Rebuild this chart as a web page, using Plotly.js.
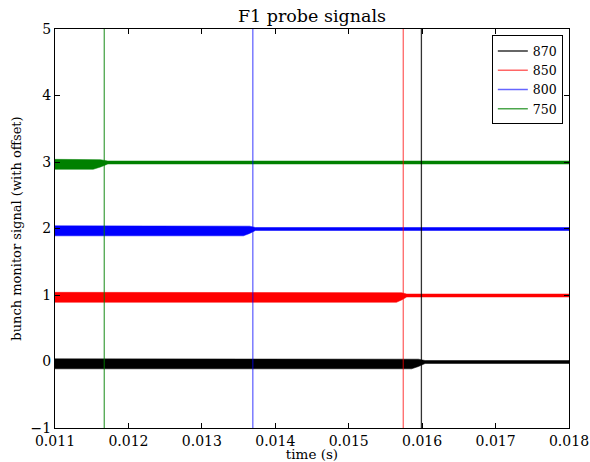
<!DOCTYPE html>
<html>
<head>
<meta charset="utf-8">
<script src="https://cdn.plot.ly/plotly-3.0.1.min.js"></script>
<style>html,body{margin:0;padding:0;background:#fff;}#chart{width:590px;height:462px;}</style>
</head>
<body>
<div id="chart"></div>
<script>
// Series labels, colours, offsets
const labels = ["870", "850", "800", "750"];
const colors = ["#000000", "#ff0000", "#0000ff", "#008000"];
const lineColors = ["rgba(0,0,0,0.8)", "rgba(255,0,0,0.6)", "rgba(0,0,255,0.6)", "rgba(0,128,0,0.7)"];
const offsets = [0, 1, 2, 3];
// Vertical marker times (s)
const markerTimes = [0.01599, 0.015743, 0.013694, 0.011671];
// Envelope knots (time, s) for each series band
const envTimes = [
  [0.011, 0.015857, 0.015950, 0.016040, 0.018],
  [0.011, 0.015650, 0.015720, 0.015790, 0.018],
  [0.011, 0.013566, 0.013650, 0.013730, 0.018],
  [0.011, 0.011520, 0.011620, 0.011720, 0.018]
];
// Envelope upper / lower deviations from offset
const envUpper = [0.04, 0.04, 0.035, 0.015, 0.015];
const envLower = [-0.11, -0.11, -0.075, -0.03, -0.03];
const xTicks = [0.011, 0.012, 0.013, 0.014, 0.015, 0.016, 0.017, 0.018];
const xTickText = ["0.011", "0.012", "0.013", "0.014", "0.015", "0.016", "0.017", "0.018"];

const traces = [];
for (let i = labels.length - 1; i >= 0; i--) {
  const t = envTimes[i];
  const xs = t.concat(t.slice().reverse());
  const ys = envUpper.map(v => v + offsets[i]).concat(envLower.slice().reverse().map(v => v + offsets[i]));
  traces.push({
    x: xs, y: ys, type: "scatter", mode: "lines", fill: "toself",
    fillcolor: colors[i], line: {color: colors[i], width: 0.5},
    showlegend: false, hoverinfo: "skip"
  });
}
for (let i = 0; i < labels.length; i++) {
  traces.push({
    x: [markerTimes[i], markerTimes[i]], y: [-1, 5], type: "scatter", mode: "lines",
    line: {color: lineColors[i], width: 1.3}, name: labels[i]
  });
}

const axisCommon = {
  showline: true, linecolor: "#000", linewidth: 1, mirror: "ticks",
  ticks: "inside", ticklen: 5, tickcolor: "#000", tickwidth: 1,
  showgrid: false, zeroline: false,
  tickfont: {family: "DejaVu Serif", size: 14, color: "#000"}
};

const layout = {
  width: 590, height: 462,
  margin: {l: 55, r: 21, t: 29, b: 34},
  paper_bgcolor: "#fff", plot_bgcolor: "#fff",
  font: {family: "DejaVu Serif", color: "#000"},
  title: {text: "F1 probe signals", font: {family: "DejaVu Serif", size: 17.5, color: "#000"},
          xref: "paper", x: 0.5, xanchor: "center", yref: "container", y: 0.978, yanchor: "top"},
  xaxis: Object.assign({}, axisCommon, {
    range: [0.011, 0.018], tickvals: xTicks, ticktext: xTickText,
    title: {text: "time (s)", font: {family: "DejaVu Serif", size: 13.5, color: "#000"}, standoff: 1}
  }),
  yaxis: Object.assign({}, axisCommon, {
    range: [-1, 5], dtick: 1, tick0: -1,
    title: {text: "bunch monitor signal (with offset)", font: {family: "DejaVu Serif", size: 13, color: "#000"}, standoff: 6}
  }),
  legend: {
    x: 0.988, xanchor: "right", y: 0.984, yanchor: "top",
    bordercolor: "#000", borderwidth: 1, bgcolor: "#fff",
    font: {family: "DejaVu Serif", size: 12.5, color: "#000"}
  },
  showlegend: true
};

Plotly.newPlot("chart", traces, layout, {staticPlot: true});
</script>
</body>
</html>
